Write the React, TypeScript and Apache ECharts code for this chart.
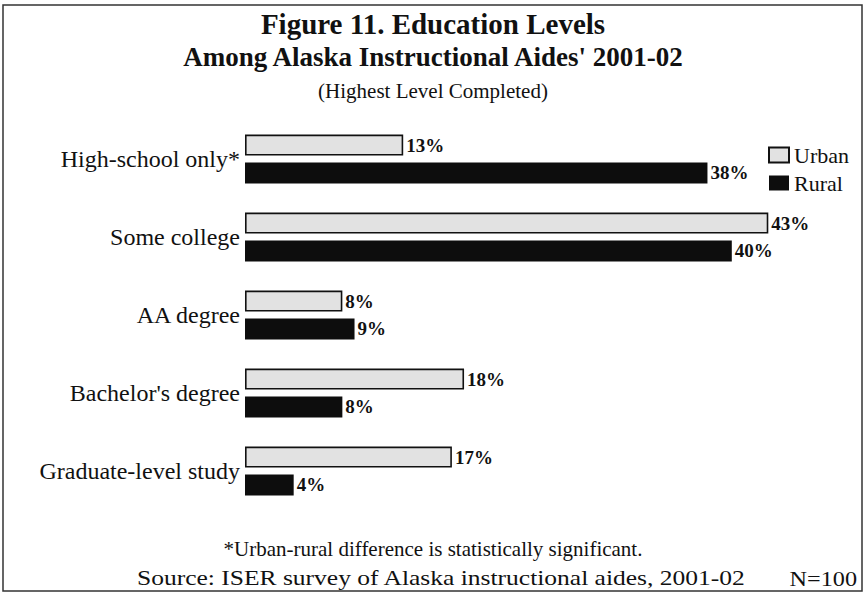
import React, { useEffect, useRef } from "react";
import * as echarts from "echarts";

const categories = [
  "High-school only*",
  "Some college",
  "AA degree",
  "Bachelor's degree",
  "Graduate-level study",
];
const urbanValues = [13, 43, 8, 18, 17];
const ruralValues = [38, 40, 9, 8, 4];
const seriesNames = ["Urban", "Rural"];

const titleLines = [
  "Figure 11. Education Levels",
  "Among Alaska Instructional Aides' 2001-02",
];
const subtitle = "(Highest Level Completed)";
const footnote = "*Urban-rural difference is statistically significant.";
const source = "Source: ISER survey of Alaska instructional aides, 2001-02";
const sampleSize = "N=100";

const SERIF = "'Liberation Serif', 'Times New Roman', serif";

function textEl(
  text: string,
  x: number,
  y: number,
  fontSize: number,
  align: "left" | "center" | "right",
  opts: { bold?: boolean; scaleX?: number } = {}
) {
  return {
    type: "text",
    x,
    y,
    scaleX: opts.scaleX ?? 1,
    silent: true,
    style: {
      text,
      fontFamily: SERIF,
      fontSize,
      fontWeight: opts.bold ? "bold" : "normal",
      fill: "#111",
      align,
      verticalAlign: "middle",
    },
  };
}

export default function App() {
  const ref = useRef<HTMLDivElement>(null);

  useEffect(() => {
    if (!ref.current) return;
    const chart = echarts.init(ref.current, null, { renderer: "svg" });

    const barLabel = {
      show: true,
      position: "right",
      distance: 3,
      formatter: "{c}%",
      fontFamily: SERIF,
      fontSize: 19,
      fontWeight: "bold",
      color: "#111",
    };

    chart.setOption({
      animation: false,
      backgroundColor: "#fff",
      textStyle: { fontFamily: SERIF },
      grid: { left: 245, top: 120, width: 608.5, height: 390, containLabel: false },
      xAxis: {
        type: "value",
        min: 0,
        max: 50,
        show: false,
      },
      yAxis: {
        type: "category",
        inverse: true,
        data: categories,
        axisLine: { show: false },
        axisTick: { show: false },
        axisLabel: {
          fontFamily: SERIF,
          fontSize: 24,
          color: "#111",
          margin: 5,
        },
      },
      legend: {
        orient: "vertical",
        left: 768,
        top: 144,
        padding: 0,
        icon: "rect",
        itemWidth: 20,
        itemHeight: 15,
        itemGap: 6,
        textStyle: { fontFamily: SERIF, fontSize: 22, color: "#111" },
        data: seriesNames,
      },
      series: [
        {
          name: seriesNames[0],
          type: "bar",
          data: urbanValues,
          barWidth: 21,
          barGap: "33%",
          itemStyle: { color: "#e2e2e2", borderColor: "#111", borderWidth: 1.6 },
          label: barLabel,
        },
        {
          name: seriesNames[1],
          type: "bar",
          data: ruralValues,
          barWidth: 21,
          itemStyle: { color: "#0d0d0d" },
          label: barLabel,
        },
      ],
      graphic: [
        {
          type: "rect",
          shape: { x: 3, y: 5, width: 859, height: 586 },
          style: { fill: "none", stroke: "#333", lineWidth: 1.5 },
          silent: true,
        },
        textEl(titleLines[0], 433, 24, 29, "center", { bold: true }),
        textEl(titleLines[1], 433, 57, 27, "center", { bold: true }),
        textEl(subtitle, 433, 91, 21, "center"),
        textEl(footnote, 433, 549, 21, "center"),
        textEl(source, 137, 578, 22, "left", { scaleX: 1.16 }),
        textEl(sampleSize, 857, 578, 22, "right", { scaleX: 1.1 }),
      ],
    });

    return () => chart.dispose();
  }, []);

  return (
    <div
      ref={ref}
      style={{ position: "fixed", left: 0, top: 0, width: 867, height: 593 }}
    />
  );
}
